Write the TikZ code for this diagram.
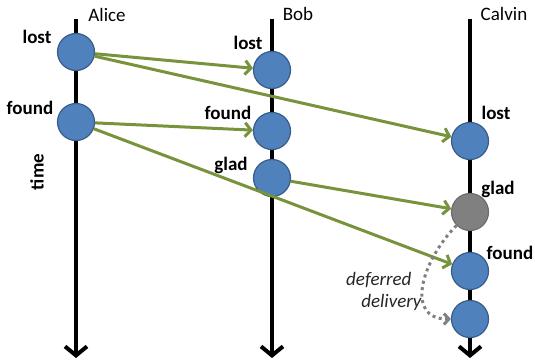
\documentclass[tikz,border=0pt]{standalone}
\usepackage{fontspec}
\setmainfont{Carlito}
\usetikzlibrary{arrows.meta}

\definecolor{evblue}{HTML}{4F81BD}
\definecolor{evedge}{HTML}{385D8A}
\definecolor{msggreen}{HTML}{77933C}
\definecolor{evgray}{HTML}{808080}

\begin{document}
\begin{tikzpicture}[x=1pt, y=-1pt,
  every node/.style={font=\fontsize{19}{22}\selectfont},
  tag/.style={font=\bfseries\fontsize{19}{22}\selectfont},
  timeline/.style={line width=4pt, -{Straight Barb[length=9pt,width=22pt]}},
  event/.style={circle, draw=evedge, line width=1.2pt, fill=evblue,
    minimum size=37pt, inner sep=0pt},
  pending/.style={event, draw=evgray!85!black, fill=evgray},
  msg/.style={draw=msggreen, line width=3pt,
    -{Straight Barb[length=6pt,width=14pt]}},
  defer/.style={draw=evgray, line width=3pt, dash pattern=on 3pt off 3.5pt,
    -{Straight Barb[length=5pt,width=11pt]}}]
  \useasboundingbox (0,0) rectangle (535,361);

  % Timelines
  \coordinate (atop) at (76,19);
  \coordinate (aend) at (76,358);
  \coordinate (btop) at (272,19);
  \coordinate (bend) at (272,358);
  \coordinate (ctop) at (470,19);
  \coordinate (cend) at (470,358);
  \draw[timeline] (atop) -- (aend);
  \draw[timeline] (btop) -- (bend);
  \draw[timeline] (ctop) -- (cend);

  \node (alice) at (107,15) {Alice};
  \node (bob) at (298,14) {Bob};
  \node (calvin) at (504,14) {Calvin};
  \node[tag, rotate=90] (time) at (37,172) {time};

  % Events
  \node[event] (alost) at (76,52) {};
  \node[event] (afound) at (76,122) {};
  \node[event] (blost) at (272,70) {};
  \node[event] (bfound) at (272,131) {};
  \node[event] (bglad) at (272,178) {};
  \node[event] (clost) at (470,141) {};
  \node[pending] (cglad) at (470,212) {};
  \node[event] (cfound) at (470,271) {};
  \node[event] (clate) at (470,319) {};

  \node[tag] (alostlbl) at (37,37) {lost};
  \node[tag] (afoundlbl) at (30,108) {found};
  \node[tag] (blostlbl) at (248,43) {lost};
  \node[tag] (bfoundlbl) at (228,113) {found};
  \node[tag] (bgladlbl) at (231,165) {glad};
  \node[tag] (clostlbl) at (496,113) {lost};
  \node[tag] (cgladlbl) at (498,189) {glad};
  \node[tag] (cfoundlbl) at (510,253) {found};

  % Messages
  \draw[msg] (alost) -- (blost);
  \draw[msg] (alost) -- (clost);
  \draw[msg] (afound) -- (bfound);
  \draw[msg] (afound) -- (cfound);
  \draw[msg] (bglad) -- (cglad);

  % Deferred delivery
  \draw[defer] (cglad) to[out=225, in=180, looseness=1.3] (clate);
  \node[font=\itshape\fontsize{19}{22}\selectfont, text=black!85,
    align=right, anchor=east] (deferlbl) at (425,291)
    {deferred\hspace*{10pt}\\delivery};
\end{tikzpicture}
\end{document}
